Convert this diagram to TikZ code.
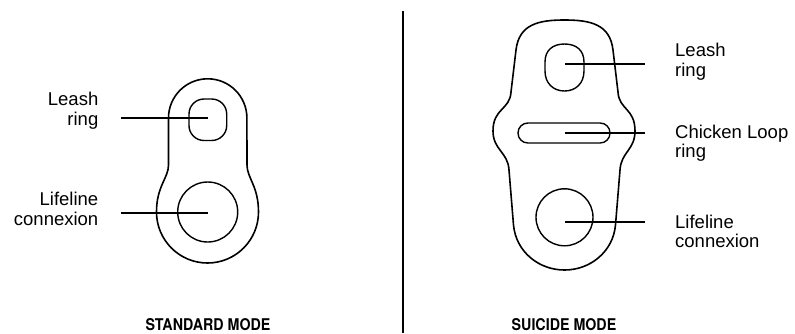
\documentclass[tikz,border=0pt]{standalone}
\usepackage{fontspec}
\setmainfont{Liberation Sans}
\newfontfamily\modefont[FakeStretch=0.88]{TeX Gyre Heros}
\usetikzlibrary{positioning}
\begin{document}
\begin{tikzpicture}[x=1pt,y=-1pt,
  outline/.style={line width=1.6pt,line join=round},
  hole/.style={line width=1.4pt},
  leader/.style={line width=1.8pt},
  lblleft/.style={anchor=east,align=right,font=\fontsize{18.5}{19.5}\selectfont,inner sep=0pt},
  lblright/.style={anchor=west,align=left,font=\fontsize{18.5}{19.5}\selectfont,inner sep=0pt},
  modelbl/.style={font=\modefont\bfseries\fontsize{16.2}{18}\selectfont,inner sep=0pt}
]
\useasboundingbox (0,0) rectangle (795,333);
% divider
\coordinate (divtop) at (402.5,11);
\coordinate (divbot) at (402.5,333);
\draw[line width=2pt] (divtop) -- (divbot);
% standard mode
\draw[outline] (168.5,118) arc[start angle=180,end angle=360,radius=39.2] -- (247,165)
  .. controls (247,178) and (258.5,186) .. (258.5,212)
  arc[start angle=0,end angle=180,radius=51]
  .. controls (156.5,186) and (168.5,178) .. (168.5,165) -- cycle;
\draw[hole,rounded corners=15pt] (189,99) rectangle (226.7,140.5);
\draw[hole] (207.7,212) circle[radius=30];
\coordinate (leashL) at (207.7,117.7);
\coordinate (lifeL) at (207.7,212.7);
\coordinate (leashLend) at (121,117.7);
\coordinate (lifeLend) at (121,212.7);
\draw[leader] (leashLend) -- (leashL);
\draw[leader] (lifeLend) -- (lifeL);
\node[lblleft] (leashLlbl) at (98.5,110.7) {Leash\\ring};
\node[lblleft] (lifeLlbl) at (98.5,208.8) {Lifeline\\connexion};
\node[modelbl] (stdmode) at (208,325) {STANDARD MODE};
% suicide mode
\draw[outline] (564.5,20)
  .. controls (590,20) and (610,24) .. (613,50)
  -- (618,92)
  .. controls (619,110) and (635,108) .. (635,131)
  .. controls (635,150) and (621,152) .. (620,170)
  -- (615.5,225)
  .. controls (613,252) and (590,270) .. (564.5,270)
  .. controls (539,270) and (516,252) .. (513.5,225)
  -- (509,170)
  .. controls (508,152) and (493,150) .. (493,131)
  .. controls (493,108) and (510,110) .. (511,92)
  -- (516,50)
  .. controls (519,24) and (539,20) .. (564.5,20) -- cycle;
\draw[hole] (545,62) .. controls (545,50) and (553,44) .. (564.5,44)
  .. controls (576,44) and (584,50) .. (584,62) -- (584,71)
  .. controls (584,83) and (576,91) .. (564.5,91)
  .. controls (553,91) and (545,83) .. (545,71) -- cycle;
\draw[hole,rounded corners=9.9pt] (518,123) rectangle (610,143);
\draw[hole] (564.5,217.3) circle[radius=28.5];
\coordinate (leashR) at (565,64);
\coordinate (chickenR) at (565,133);
\coordinate (lifeR) at (565,222);
\coordinate (leashRend) at (645,64);
\coordinate (chickenRend) at (645,133);
\coordinate (lifeRend) at (645,222);
\draw[leader] (leashR) -- (leashRend);
\draw[leader] (chickenR) -- (chickenRend);
\draw[leader] (lifeR) -- (lifeRend);
\node[lblright] (leashRlbl) at (675,61.7) {Leash\\ring};
\node[lblright] (chickenRlbl) at (675,143.3) {Chicken Loop\\ring};
\node[lblright] (lifeRlbl) at (675,231.4) {Lifeline\\connexion};
\node[modelbl] (suimode) at (564,325) {SUICIDE MODE};
\end{tikzpicture}
\end{document}
